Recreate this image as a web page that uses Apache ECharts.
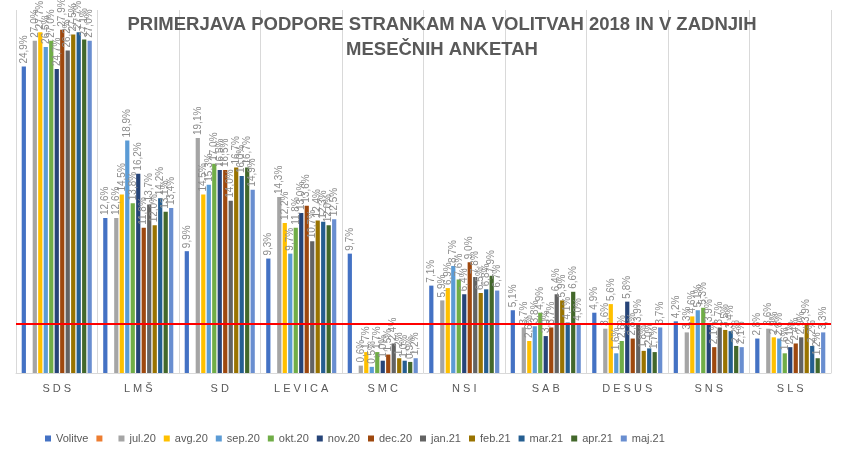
<!DOCTYPE html>
<html>
<head>
<meta charset="UTF-8">
<title>Primerjava podpore strankam</title>
<script src="https://cdn.jsdelivr.net/npm/echarts@6/dist/echarts.min.js"></script>
</head>
<body style="margin:0">
<div id="main" style="width:847px;height:455px;"></div>
<script type="text/javascript">
var stranke = ['SDS', 'LMŠ', 'SD', 'LEVICA', 'SMC', 'NSI', 'SAB', 'DESUS', 'SNS', 'SLS'];
var serije = ['Volitve', ' ', 'jul.20', 'avg.20', 'sep.20', 'okt.20', 'nov.20', 'dec.20', 'jan.21', 'feb.21', 'mar.21', 'apr.21', 'maj.21'];
var barve = ['#4472c4', '#ed7d31', '#a5a5a5', '#ffc000', '#5b9bd5', '#70ad47', '#264478', '#9e480e', '#636363', '#997300', '#255e91', '#43682b', '#698ed0'];
var volitve = [24.9, 12.6, 9.9, 9.3, 9.7, 7.1, 5.1, 4.9, 4.2, 2.8];
var prazno = [null, null, null, null, null, null, null, null, null, null];
var jul20 = [27.0, 12.6, 19.1, 14.3, 0.6, 5.9, 3.7, 3.6, 3.3, 3.6];
var avg20 = [27.7, 14.5, 14.5, 12.2, 1.7, 6.9, 2.6, 5.6, 4.6, 2.9];
var sep20 = [26.5, 18.9, 15.3, 9.7, 0.5, 8.7, 3.8, 1.6, 5.1, 2.8];
var okt20 = [27.0, 13.8, 17.0, 11.8, 1.7, 7.6, 4.9, 2.6, 5.3, 1.6];
var nov20 = [24.7, 16.2, 16.5, 13.0, 1.0, 6.4, 3.0, 5.8, 3.9, 2.1];
var dec20 = [27.9, 11.8, 16.5, 13.6, 1.5, 9.0, 3.7, 2.8, 2.1, 2.4];
var jan21 = [26.2, 13.7, 14.0, 10.7, 2.4, 7.8, 6.4, 3.9, 3.7, 2.9];
var feb21 = [27.5, 12.0, 16.7, 12.4, 1.2, 6.5, 5.9, 1.8, 3.5, 3.9];
var mar21 = [27.7, 14.2, 16.0, 12.3, 1.0, 6.8, 4.1, 2.0, 3.4, 2.2];
var apr21 = [27.1, 13.1, 16.7, 12.0, 0.9, 7.9, 6.6, 1.7, 2.2, 1.2];
var maj21 = [27.0, 13.4, 14.9, 12.5, 1.2, 6.7, 4.0, 3.7, 2.1, 3.3];
var podatki = [volitve, prazno, jul20, avg20, sep20, okt20, nov20, dec20, jan21, feb21, mar21, apr21, maj21];
var prag = 4;

var myChart = echarts.init(document.getElementById('main'));
var series = serije.map(function (ime, i) {
    var s = {
        name: ime,
        type: 'bar',
        data: podatki[i],
        itemStyle: { color: barve[i] },
        barGap: '30%',
        barCategoryGap: '14%',
        label: {
            show: true,
            position: 'top',
            rotate: 90,
            align: 'left',
            verticalAlign: 'middle',
            distance: 3,
            color: '#8c8c8c',
            fontSize: 10,
            formatter: function (p) { return p.value == null ? '' : p.value.toFixed(1).replace('.', ',') + '%'; }
        }
    };
    if (i === 0) {
        s.markLine = {
            silent: true,
            symbol: 'none',
            label: { show: false },
            lineStyle: { color: '#ff0000', width: 2, type: 'solid' },
            data: [{ yAxis: prag }]
        };
    }
    return s;
});

var option = {
    title: {
        text: 'PRIMERJAVA PODPORE STRANKAM NA VOLITVAH 2018 IN V ZADNJIH\nMESEČNIH ANKETAH',
        left: 437,
        top: 7,
        textAlign: 'center',
        textStyle: { fontSize: 18.5, fontWeight: 'bold', color: '#595959', lineHeight: 25, fontFamily: 'Liberation Sans' }
    },
    legend: {
        data: serije,
        bottom: 6,
        left: 40,
        itemWidth: 6,
        itemHeight: 6,
        itemGap: 8,
        icon: 'rect',
        textStyle: { color: '#595959', fontSize: 11 }
    },
    grid: { left: 16, right: 16, top: 10, bottom: 82 },
    xAxis: {
        type: 'category',
        data: stranke,
        axisTick: { show: false },
        axisLine: { lineStyle: { color: '#d9d9d9' } },
        splitLine: { show: true, lineStyle: { color: '#d9d9d9' } },
        axisLabel: { color: '#595959', fontSize: 11, margin: 10, formatter: function (v) { return v.split('').join(' '); } }
    },
    yAxis: { type: 'value', min: 0, max: 29.5, show: false },
    series: series
};
myChart.setOption(option);
</script>
</body>
</html>
